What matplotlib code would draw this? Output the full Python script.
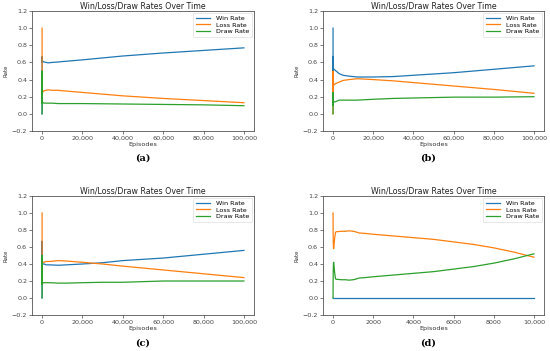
import matplotlib
matplotlib.use("Agg")
import matplotlib.pyplot as plt
from matplotlib.ticker import FuncFormatter

# ---------------- data ----------------
a_ep = [1, 2, 3, 4, 6, 10, 20, 50, 100, 200, 500, 1000, 2000, 3000, 5000, 8000, 10000,
        20000, 40000, 60000, 80000, 100000]
a_win = [0.0, 0.0, 0.33, 0.5, 0.67, 0.6, 0.63, 0.62, 0.61, 0.62, 0.61, 0.605, 0.60, 0.595, 0.60, 0.605, 0.61,
         0.63, 0.675, 0.71, 0.74, 0.77]
a_loss = [1.0, 0.5, 0.33, 0.25, 0.17, 0.2, 0.25, 0.23, 0.24, 0.25, 0.26, 0.27, 0.275, 0.28, 0.275, 0.275, 0.27,
          0.25, 0.21, 0.18, 0.155, 0.13]
a_draw = [0.0, 0.5, 0.33, 0.25, 0.17, 0.2, 0.12, 0.15, 0.15, 0.13, 0.13, 0.125, 0.125, 0.125, 0.125, 0.12, 0.12,
          0.12, 0.115, 0.11, 0.105, 0.095]

b_ep = [1, 2, 3, 4, 6, 10, 20, 50, 100, 200, 500, 1000, 2000, 3000, 5000, 8000, 12000,
        20000, 30000, 40000, 60000, 80000, 100000]
b_win = [1.0, 0.5, 0.67, 0.5, 0.5, 0.6, 0.55, 0.56, 0.54, 0.53, 0.52, 0.51, 0.49, 0.47, 0.45, 0.44, 0.43,
         0.43, 0.435, 0.45, 0.48, 0.52, 0.56]
b_loss = [0.0, 0.5, 0.33, 0.25, 0.33, 0.3, 0.3, 0.3, 0.32, 0.33, 0.34, 0.35, 0.36, 0.37, 0.39, 0.40, 0.41,
          0.40, 0.385, 0.365, 0.325, 0.285, 0.24]
b_draw = [0.0, 0.0, 0.0, 0.25, 0.17, 0.1, 0.15, 0.14, 0.14, 0.14, 0.14, 0.14, 0.15, 0.16, 0.16, 0.16, 0.16,
          0.17, 0.18, 0.185, 0.195, 0.195, 0.2]

c_ep = [1, 2, 3, 4, 6, 10, 20, 50, 100, 200, 500, 1000, 2000, 4000, 8000, 12000,
        20000, 30000, 40000, 60000, 80000, 100000]
c_win = [0.0, 0.0, 0.33, 0.5, 0.67, 0.4, 0.35, 0.37, 0.4, 0.4, 0.4, 0.4, 0.39, 0.39, 0.385, 0.39,
         0.40, 0.415, 0.44, 0.47, 0.515, 0.56]
c_loss = [1.0, 0.5, 0.33, 0.25, 0.17, 0.4, 0.45, 0.46, 0.44, 0.43, 0.42, 0.42, 0.43, 0.43, 0.44, 0.435,
          0.42, 0.40, 0.375, 0.33, 0.285, 0.24]
c_draw = [0.0, 0.5, 0.33, 0.25, 0.17, 0.2, 0.2, 0.17, 0.16, 0.17, 0.18, 0.18, 0.18, 0.18, 0.175, 0.175,
          0.18, 0.185, 0.185, 0.2, 0.2, 0.2]

d_ep = [1, 2, 5, 10, 20, 30, 50, 80, 120, 150, 200, 400, 600, 800, 1000, 1100, 1300, 1600, 2000,
        3000, 4000, 5000, 6000, 7000, 8000, 9000, 10000]
d_win = [0.0] * len(d_ep)
d_loss = [1.0, 1.0, 0.8, 0.7, 0.6, 0.58, 0.62, 0.7, 0.77, 0.78, 0.78, 0.785, 0.785, 0.79, 0.785, 0.78,
          0.765, 0.76, 0.75, 0.73, 0.71, 0.69, 0.66, 0.63, 0.59, 0.54, 0.48]
d_draw = [0.0, 0.0, 0.2, 0.3, 0.4, 0.42, 0.38, 0.3, 0.23, 0.22, 0.22, 0.215, 0.215, 0.21, 0.215, 0.22,
          0.235, 0.24, 0.25, 0.27, 0.29, 0.31, 0.34, 0.37, 0.41, 0.46, 0.52]

series_names = ["Win Rate", "Loss Rate", "Draw Rate"]
captions = ["(a)", "(b)", "(c)", "(d)"]
title = "Win/Loss/Draw Rates Over Time"

panels = [
    (a_ep, a_win, a_loss, a_draw),
    (b_ep, b_win, b_loss, b_draw),
    (c_ep, c_win, c_loss, c_draw),
    (d_ep, d_win, d_loss, d_draw),
]

# ---------------- layout ----------------
W, H = 550, 351
fig = plt.figure(figsize=(W / 100, H / 100), dpi=100)
fig.patch.set_facecolor("white")

rects = [
    (32, 11, 222, 120),
    (323, 11, 221, 120),
    (32, 196, 222, 119),
    (323, 196, 221, 119),
]
cap_pos = [(143, 158), (428, 158), (143, 343), (428, 343)]
colors = ["#1f77b4", "#ff7f0e", "#2ca02c"]


def fmt(x, pos):
    if abs(x) >= 10000:
        return f"{x:,.0f}"
    return f"{x:.0f}"


for (ep, w, l, d), (x, y, rw, rh), cap, (cx, cy) in zip(panels, rects, captions, cap_pos):
    ax = fig.add_axes([x / W, 1 - (y + rh) / H, rw / W, rh / H])
    for vals, col, name in zip((w, l, d), colors, series_names):
        ax.plot(ep, vals, color=col, lw=0.9, label=name)
    ax.set_ylim(-0.2, 1.2)
    ax.set_yticks([-0.2, 0.0, 0.2, 0.4, 0.6, 0.8, 1.0, 1.2])
    ax.xaxis.set_major_formatter(FuncFormatter(fmt))
    ax.tick_params(labelsize=4.6, length=2, width=0.5, pad=1.5, colors="#444444")
    for s in ax.spines.values():
        s.set_linewidth(0.6)
        s.set_color("#555555")
    ax.set_title(title, fontsize=5.7, pad=2, color="#222222")
    ax.set_xlabel("Episodes", fontsize=4.6, labelpad=0.5, color="#333333")
    ax.set_ylabel("Rate", fontsize=3.9, labelpad=2, color="#333333")
    leg = ax.legend(loc="upper right", fontsize=4.6, frameon=True, handlelength=2.3,
                    borderpad=0.4, labelspacing=0.2, handletextpad=0.9, borderaxespad=0.3)
    leg.get_frame().set_linewidth(0.4)
    leg.get_frame().set_edgecolor("#cccccc")
    fig.text(cx / W, 1 - cy / H, cap, ha="center", va="center", fontsize=7,
             fontweight="bold", family="DejaVu Serif")

fig.savefig("out.png", dpi=100, facecolor="white")
